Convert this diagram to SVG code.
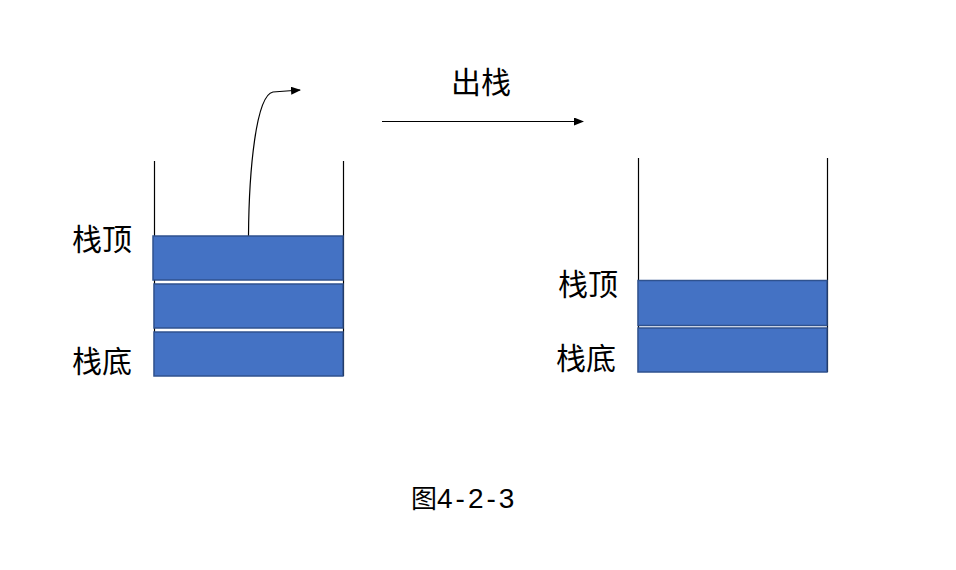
<svg xmlns="http://www.w3.org/2000/svg" width="956" height="570" viewBox="0 0 956 570">
<defs>
<marker id="ah" markerWidth="10" markerHeight="8" refX="9" refY="4" orient="auto" markerUnits="userSpaceOnUse">
<path d="M0,0 L10,4 L0,8 Z" fill="#000"/>
</marker>
<style>
.wall{stroke:#000;stroke-width:1.2;fill:none}
.box{fill:#4472C4;stroke:#2F528F;stroke-width:1.5}
.lbl{font-family:"Noto Sans CJK SC","Noto Sans",sans-serif;font-size:30px;fill:#000}
.cap{font-family:"Noto Sans CJK SC","Noto Sans",sans-serif;font-size:26px;fill:#000}
.num{font-family:"Liberation Sans",Arial,sans-serif;font-size:28px;letter-spacing:3px}
.conn{stroke:#000;stroke-width:1.2;fill:none}
</style>
</defs>
<rect width="956" height="570" fill="#fff"/>
<g id="stack-left">
<line class="wall" x1="154.5" y1="161" x2="154.5" y2="376"/>
<line class="wall" x1="343.5" y1="161" x2="343.5" y2="376"/>
<rect class="box" x="153" y="236" width="190" height="44"/>
<rect class="box" x="154" y="284" width="189" height="44"/>
<rect class="box" x="154" y="332" width="189" height="44"/>
<text class="lbl" x="72" y="250">栈顶</text>
<text class="lbl" x="72" y="372">栈底</text>
</g>
<g id="stack-right">
<line class="wall" x1="638.5" y1="158" x2="638.5" y2="372"/>
<line class="wall" x1="827.5" y1="158" x2="827.5" y2="372"/>
<rect class="box" x="638" y="280.5" width="189" height="45"/>
<rect class="box" x="638" y="328" width="189" height="44"/>
<text class="lbl" x="558" y="295">栈顶</text>
<text class="lbl" x="556" y="369">栈底</text>
</g>
<g id="connectors">
<path class="conn" d="M248.5,235.5 C249,170 256,95 273,92 L300,90" marker-end="url(#ah)"/>
<line class="conn" x1="382" y1="121.5" x2="583" y2="121.5" marker-end="url(#ah)"/>
</g>
<text class="lbl" x="451" y="93">出栈</text>
<text class="cap" x="411" y="508">图<tspan class="num">4-2-3</tspan></text>
</svg>
